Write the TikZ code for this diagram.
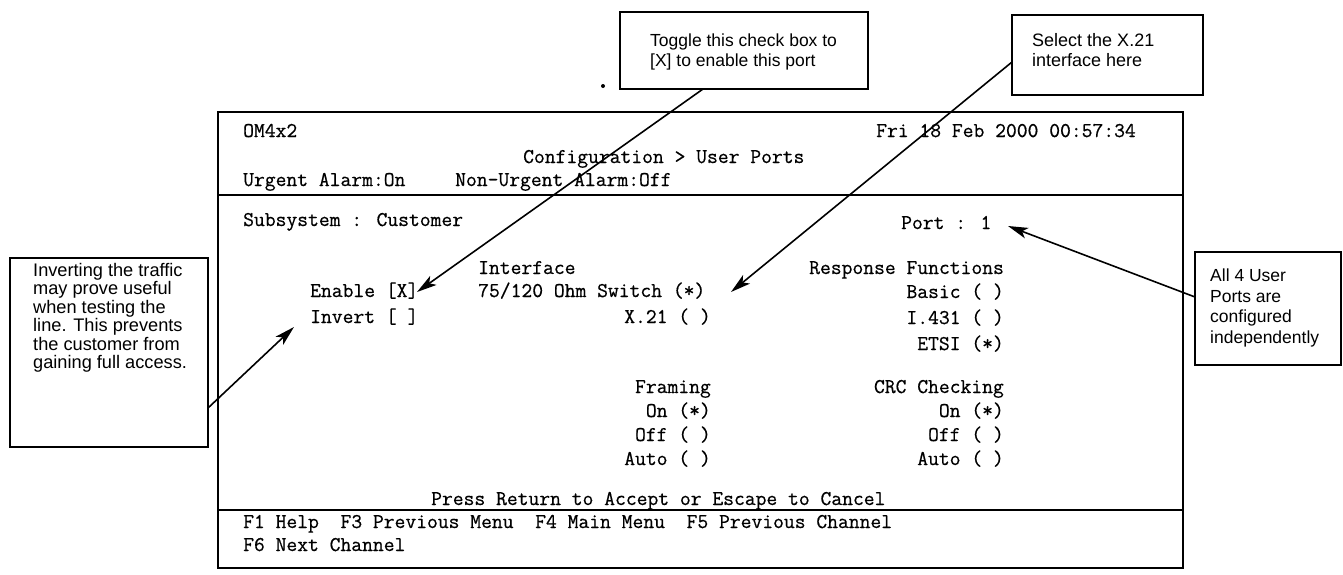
\documentclass[tikz,border=0pt]{standalone}
\usepackage{fontspec}
\newfontfamily\calloutfont{Liberation Sans}
\newfontfamily\screenfont{Latin Modern Mono}[FakeBold=0.6]
\usetikzlibrary{arrows.meta}

\begin{document}
\begin{tikzpicture}[x=1pt,y=-1pt,
  frame/.style={draw,line width=1.7pt},
  tt/.style={font=\screenfont\fontsize{21}{25}\selectfont,inner sep=0pt},
  lbl/.style={tt,anchor=base west},
  rlbl/.style={tt,anchor=base east},
  callbox/.style={draw,line width=1.6pt,inner sep=0pt},
  note/.style={inner sep=0pt,align=left,anchor=north west},
  pointer/.style={line width=1.6pt,-{Stealth[length=20pt,width=11pt,inset=5pt]}}
]
\useasboundingbox (0,0) rectangle (1343,574);

% ---- terminal screen ----
\node[frame,inner sep=0pt,minimum width=965pt,minimum height=456pt] (screen) at (700.5,340) {};
\draw[line width=1.4pt] (218,195) -- (1183,195);
\draw[line width=1.4pt] (218,510) -- (1183,510);

% header
\node[lbl] (title)  at (243,137) {OM4x2};
\node[lbl] (clock)  at (876,137) {Fri 18 Feb 2000 00:57:34};
\node[lbl] (menu)   at (523,163) {Configuration > User Ports};
\node[lbl] (urgent) at (243,186) {Urgent Alarm:On};
\node[lbl] (nonurg) at (455,186) {Non-Urgent Alarm:Off};

% body
\node[lbl] (subsys) at (243,226) {Subsystem : Customer};
\node[lbl] (port)   at (901,229) {Port : 1};

\node[lbl] (enable) at (310,297) {Enable [X]};
\node[lbl] (invert) at (310,323) {Invert [ ]};

\node[lbl]  (iface)  at (478,274) {Interface};
\node[lbl]  (ohm)    at (478,297) {75/120 Ohm Switch (*)};
\node[rlbl] (xtwo)   at (711,323) {X.21 ( )};

\node[lbl]  (resp)   at (809,274) {Response Functions};
\node[rlbl] (basic)  at (1004,298) {Basic ( )};
\node[rlbl] (ifour)  at (1004,324) {I.431 ( )};
\node[rlbl] (etsi)   at (1004,350) {ETSI (*)};

\node[rlbl] (framing) at (711,393) {Framing};
\node[rlbl] (fon)     at (711,417) {On (*)};
\node[rlbl] (foff)    at (711,441) {Off ( )};
\node[rlbl] (fauto)   at (711,465) {Auto ( )};

\node[rlbl] (crc)     at (1004,393) {CRC Checking};
\node[rlbl] (con)     at (1004,417) {On (*)};
\node[rlbl] (coff)    at (1004,441) {Off ( )};
\node[rlbl] (cauto)   at (1004,465) {Auto ( )};

\node[lbl] (press) at (431,505) {Press Return to Accept or Escape to Cancel};
\node[lbl] (keys1) at (243,528) {F1 Help~~F3 Previous Menu~~F4 Main Menu~~F5 Previous Channel};
\node[lbl] (keys2) at (243,551) {F6 Next Channel};

% ---- callout boxes ----
\node[callbox,minimum width=248pt,minimum height=77pt] (togglebox) at (744,50.5) {};
\node[note,font=\calloutfont\fontsize{17.5}{20}\selectfont] (toggletxt) at (650,34)
  {Toggle this check box to\\{}[X] to enable this port};

\node[callbox,minimum width=191pt,minimum height=80pt] (selectbox) at (1107.5,55) {};
\node[note,font=\calloutfont\fontsize{18}{20}\selectfont] (selecttxt) at (1032,33)
  {Select the X.21\\interface here};

\node[callbox,minimum width=198pt,minimum height=189pt] (invbox) at (109,352.5) {};
\node[note,font=\calloutfont\fontsize{18.2}{18.5}\selectfont] (invtxt) at (33,263)
  {Inverting the traffic\\may prove useful\\when testing the\\line. This prevents\\the customer from\\gaining full access.};

\node[callbox,minimum width=146pt,minimum height=113pt] (portbox) at (1268,308.5) {};
\node[note,font=\calloutfont\fontsize{17.5}{20.5}\selectfont] (porttxt) at (1210,269)
  {All 4 User\\Ports are\\configured\\independently};

% stray mark above the screen
\fill (603,86) circle (2pt);

% ---- pointers ----
\coordinate (t1) at (703,89);   \coordinate (h1) at (417,292);
\coordinate (t2) at (1012,62);  \coordinate (h2) at (731,292);
\coordinate (t3) at (208,408);  \coordinate (h3) at (294,327);
\coordinate (t4) at (1195,297); \coordinate (h4) at (1008,226);
\draw[pointer] (t1) -- (h1);
\draw[pointer] (t2) -- (h2);
\draw[pointer] (t3) -- (h3);
\draw[pointer] (t4) -- (h4);
\end{tikzpicture}
\end{document}
